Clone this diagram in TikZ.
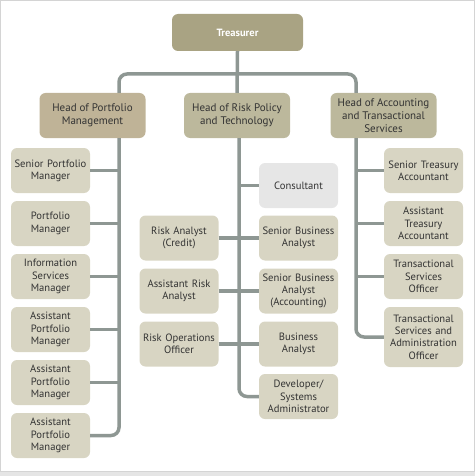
\documentclass[tikz,border=0pt]{standalone}
\usepackage{fontspec}
\setmainfont{PT Sans}
\definecolor{topfill}{HTML}{A9A383}
\definecolor{headfill}{HTML}{BCB89C}
\definecolor{headpf}{HTML}{BFB397}
\definecolor{boxfill}{HTML}{D8D5C3}
\definecolor{consfill}{HTML}{E6E6E6}
\definecolor{linecol}{HTML}{8E9793}
\definecolor{txt}{HTML}{333333}
\definecolor{framecol}{HTML}{D4D4D4}
\tikzset{
  base/.style={rounded corners=6pt, align=center, text=txt, inner sep=1pt,
    font=\fontsize{10.6}{12.3}\selectfont},
  topbox/.style={base, fill=topfill, minimum width=131pt, minimum height=37pt, text=white,
    font=\fontsize{10.5}{12}\selectfont\bfseries},
  headbox/.style={base, fill=headfill, minimum width=106pt, minimum height=45pt,
    font=\fontsize{11}{12.8}\selectfont},
  staff/.style={base, fill=boxfill, minimum width=79pt, minimum height=45pt, text width=77pt},
  conn/.style={draw=linecol, line width=3.5pt, rounded corners=8pt},
}
\begin{document}
\begin{tikzpicture}[x=1pt,y=1pt]
\useasboundingbox (0,0) rectangle (475,-476);
\draw[framecol, line width=1pt] (0.5,-0.5) rectangle (474,-471);
\draw[framecol!60, line width=4pt] (0,-474) -- (475,-474);

% coordinates of vertical trunks
\coordinate (lx) at (119,0);
\coordinate (mx) at (239,0);
\coordinate (rx) at (356,0);
\coordinate (bar) at (238,-74);

% nodes
\node[topbox] (T) at (237.5,-32.5) {Treasurer};
\node[headbox, fill=headpf] (HP) at (92.5,-115.5) {Head of Portfolio\\Management};
\node[headbox] (HR) at (237,-115.5) {Head of Risk Policy\\and Technology};
\node[headbox] (HA) at (383.5,-115.5) {Head of Accounting\\and Transactional\\Services};

% left column
\node[staff] (L1) at (50.5,-170.5) {Senior Portfolio\\Manager};
\node[staff] (L2) at (50.5,-223.5) {Portfolio\\Manager};
\node[staff] (L3) at (50.5,-276.5) {Information\\Services\\Manager};
\node[staff] (L4) at (50.5,-329.5) {Assistant\\Portfolio\\Manager};
\node[staff] (L5) at (50.5,-382.5) {Assistant\\Portfolio\\Manager};
\node[staff] (L6) at (50.5,-435.5) {Assistant\\Portfolio\\Manager};

% middle left
\node[staff] (R1) at (179,-238) {Risk Analyst\\(Credit)};
\node[staff] (R2) at (179,-291) {Assistant Risk\\Analyst};
\node[staff] (R3) at (179,-344) {Risk Operations\\Officer};

% middle right
\node[staff, fill=consfill] (M0) at (298.5,-185.5) {Consultant};
\node[staff] (M1) at (298.5,-238) {Senior Business\\Analyst};
\node[staff] (M2) at (298.5,-291) {Senior Business\\Analyst\\(Accounting)};
\node[staff] (M3) at (298.5,-344) {Business\\Analyst};
\node[staff] (M4) at (298.5,-396.5) {Developer/\\Systems\\Administrator};

% right column
\node[staff] (A1) at (423.5,-170.5) {Senior Treasury\\Accountant};
\node[staff] (A2) at (423.5,-223.5) {Assistant\\Treasury\\Accountant};
\node[staff] (A3) at (423.5,-276.5) {Transactional\\Services\\Officer};
\node[staff, minimum height=60pt] (A4) at (423.5,-337) {Transactional\\Services and\\Administration\\Officer};

% connectors
\path[conn] (T.south) -- (HR.north);
\path[conn] (lx |- HP.north) |- (bar) -| (rx |- HA.north);
\path[conn] (lx |- HP.south) |- (L6.east);
\path[conn] (mx |- HR.south) |- (M4.west);
\path[conn] (rx |- HA.south) |- (A4.west);
\foreach \n in {L1,L2,L3,L4,L5} {\path[conn] (\n.east) -- (\n.east -| lx);}
\foreach \n in {A1,A2,A3} {\path[conn] (\n.west) -- (\n.west -| rx);}
\path[conn] (M0.west) -- (M0.west -| mx);
\path[conn] (R1.east) -- (M1.west);
\path[conn] (R2.east) -- (M2.west);
\path[conn] (R3.east) -- (M3.west);
\end{tikzpicture}
\end{document}
